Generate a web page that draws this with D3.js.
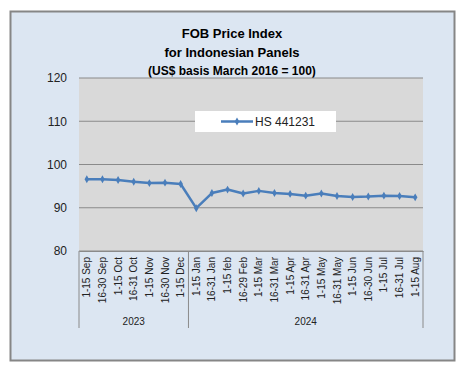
<!DOCTYPE html>
<html>
<head>
<meta charset="utf-8">
<script src="https://cdn.jsdelivr.net/npm/d3@7"></script>
<style>
  body { margin: 0; background: #fff; }
  text { font-family: "Liberation Sans", Arial, sans-serif; }
</style>
</head>
<body>
<div id="chart"></div>
<script>
// data
const periods = ["1-15 Sep", "16-30 Sep", "1-15 Oct", "16-31 Oct", "1-15 Nov", "16-30 Nov", "1-15 Dec",
  "1-15 Jan", "16-31 Jan", "1-15 feb", "16-29 Feb", "1-15 Mar", "16-31 Mar", "1-15 Apr", "16-31 Apr",
  "1-15 May", "16-31 May", "1-15 Jun", "16-30 Jun", "1-15 Jul", "16-31 Jul", "1-15 Aug"];
const years = ["2023", "2024"];
const yearCounts = [7, 15];
const hsValues = [96.6, 96.6, 96.4, 96.0, 95.7, 95.8, 95.5,
  89.9, 93.4, 94.2, 93.3, 93.9, 93.4, 93.2, 92.8,
  93.3, 92.7, 92.5, 92.6, 92.8, 92.7, 92.4];
const yTicks = [80, 90, 100, 110, 120];
const seriesName = "HS 441231";

const W = 465, H = 376;
const margin = { top: 78, right: 42, bottom: 125, left: 79 };
const width = 423 - margin.left;
const height = 251 - margin.top;

const svg = d3.select("#chart").append("svg")
  .attr("width", W).attr("height", H);

// chart background
svg.append("rect")
  .attr("x", 10.5).attr("y", 11.5)
  .attr("width", 444).attr("height", 349)
  .attr("fill", "#dce6f2")
  .attr("stroke", "#868686")
  .attr("stroke-width", 2);

// titles
const titles = [
  { t: "FOB Price Index", y: 38, s: 13 },
  { t: "for Indonesian Panels", y: 57, s: 13 },
  { t: "(US$ basis March 2016 = 100)", y: 75, s: 12 }
];
svg.selectAll(".title").data(titles).enter().append("text")
  .attr("class", "title")
  .attr("x", 232).attr("y", d => d.y)
  .attr("text-anchor", "middle")
  .attr("font-weight", "bold")
  .attr("font-size", d => d.s)
  .attr("fill", "#000")
  .text(d => d.t);

const g = svg.append("g").attr("transform", `translate(${margin.left},${margin.top})`);

const x = d3.scaleBand().domain(periods).range([0, width]);
const y = d3.scaleLinear().domain([80, 120]).range([height, 0]);

// plot area
g.append("rect")
  .attr("width", width).attr("height", height)
  .attr("fill", "#d9d9d9");

// gridlines
g.selectAll(".grid").data(yTicks).enter().append("line")
  .attr("class", "grid")
  .attr("x1", 0).attr("x2", width)
  .attr("y1", d => y(d)).attr("y2", d => y(d))
  .attr("stroke", "#8a8a8a").attr("stroke-width", 1);

// y axis
const yAxis = g.append("g")
  .call(d3.axisLeft(y).tickValues(yTicks).tickSize(0).tickPadding(12));
yAxis.select(".domain").remove();
yAxis.selectAll("text")
  .attr("font-size", 12)
  .attr("fill", "#222")
  .style("font-family", "'Liberation Sans', Arial, sans-serif");

// x axis
const xAxis = g.append("g")
  .attr("transform", `translate(0,${height})`)
  .call(d3.axisBottom(x).tickSize(0));
xAxis.select(".domain").attr("stroke", "#8a8a8a");
xAxis.selectAll("text")
  .attr("transform", "rotate(-90)")
  .attr("text-anchor", "end")
  .attr("x", -6).attr("y", 0).attr("dy", "0.35em")
  .attr("font-size", 10)
  .attr("fill", "#222")
  .style("font-family", "'Liberation Sans', Arial, sans-serif");

// year groups
let start = 0;
const groups = years.map((yr, i) => {
  const grp = { year: yr, from: periods[start], to: periods[start + yearCounts[i] - 1] };
  start += yearCounts[i];
  return grp;
});
const bounds = [0].concat(groups.map(d => x(d.to) + x.bandwidth()));
g.selectAll(".sep").data(bounds).enter().append("line")
  .attr("class", "sep")
  .attr("x1", d => d).attr("x2", d => d)
  .attr("y1", height).attr("y2", height + 77)
  .attr("stroke", "#8a8a8a");
g.selectAll(".year").data(groups).enter().append("text")
  .attr("class", "year")
  .attr("x", d => (x(d.from) + x(d.to) + x.bandwidth()) / 2)
  .attr("y", height + 74)
  .attr("text-anchor", "middle")
  .attr("font-size", 10)
  .attr("fill", "#222")
  .text(d => d.year);

// series line
const line = d3.line()
  .x((d, i) => x(periods[i]) + x.bandwidth() / 2)
  .y(d => y(d));
g.append("path")
  .datum(hsValues)
  .attr("fill", "none")
  .attr("stroke", "#4a7ebb")
  .attr("stroke-width", 2.5)
  .attr("stroke-linejoin", "round")
  .attr("d", line);
g.selectAll(".mk").data(hsValues).enter().append("path")
  .attr("class", "mk")
  .attr("d", d3.symbol().type(d3.symbolDiamond).size(18))
  .attr("transform", (d, i) => `translate(${x(periods[i]) + x.bandwidth() / 2},${y(d)})`)
  .attr("fill", "#4a7ebb");

// legend
const leg = svg.append("g").attr("transform", "translate(195,111)");
leg.append("rect")
  .attr("width", 141).attr("height", 21)
  .attr("fill", "#fff");
leg.append("line")
  .attr("x1", 26).attr("x2", 58).attr("y1", 10.5).attr("y2", 10.5)
  .attr("stroke", "#4a7ebb").attr("stroke-width", 2.5);
leg.append("path")
  .attr("d", d3.symbol().type(d3.symbolDiamond).size(18))
  .attr("transform", "translate(42,10.5)")
  .attr("fill", "#4a7ebb");
leg.append("text")
  .attr("x", 60).attr("y", 15)
  .attr("font-size", 12)
  .attr("fill", "#222")
  .text(seriesName);
</script>
</body>
</html>
